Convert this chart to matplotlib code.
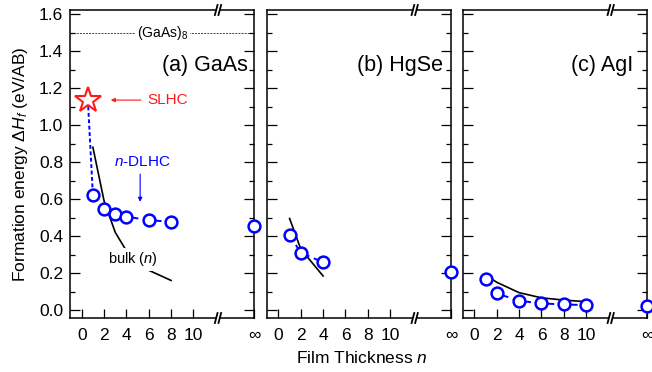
import numpy as np
import matplotlib
matplotlib.use('Agg')
import matplotlib.pyplot as plt
from matplotlib.ticker import MultipleLocator

plt.rcParams['font.family'] = ['Liberation Sans', 'DejaVu Sans']
plt.rcParams['mathtext.fontset'] = 'custom'
plt.rcParams['mathtext.rm'] = 'Liberation Sans'
plt.rcParams['mathtext.it'] = 'Liberation Sans:italic'

# data
xinf = 15.45   # position used for n = infinity (right spine)

gaas_n = [1, 2, 3, 4, 6, 8]
gaas_dlhc = [0.62, 0.545, 0.52, 0.505, 0.486, 0.477]
gaas_inf = 0.456
gaas_bulk_n = [1, 2, 3, 4, 6, 8]
gaas_bulk = [0.88, 0.59, 0.42, 0.32, 0.215, 0.16]
slhc_n = 0.55
slhc_val = 1.135
gaas8_val = 1.5

hgse_n = [1, 2, 4]
hgse_dlhc = [0.405, 0.31, 0.258]
hgse_inf = 0.207
hgse_bulk_n = [1, 2, 4]
hgse_bulk = [0.495, 0.33, 0.184]

agi_n = [1, 2, 4, 6, 8, 10]
agi_dlhc = [0.166, 0.09, 0.05, 0.036, 0.03, 0.027]
agi_inf = 0.022
agi_bulk_n = [1, 2, 4, 6, 8, 10]
agi_bulk = [0.19, 0.15, 0.094, 0.066, 0.054, 0.045]

xticks = [0, 2, 4, 6, 8, 10]
xticklabels = ['0', '2', '4', '6', '8', '10']
titles = ['(a) GaAs', '(b) HgSe', '(c) AgI']

blue = '#0000ff'
red = '#ff1a1a'

fig = plt.figure(figsize=(6.52, 3.72), dpi=100)
W, H = 652.0, 372.0
lefts = [70, 266.7, 462.7]
axes = []
for l in lefts:
    ax = fig.add_axes([l / W, (H - 318) / H, 184.3 / W, 308 / H])
    axes.append(ax)

def style(ax, first):
    ax.set_xlim(-1.05, xinf)
    ax.set_ylim(-0.043, 1.622)
    ax.set_xticks(xticks + [xinf])
    ax.set_xticklabels(xticklabels + ['\u221e'])
    ax.yaxis.set_major_locator(MultipleLocator(0.2))
    ax.yaxis.set_minor_locator(MultipleLocator(0.1))
    ax.tick_params(axis='both', which='both', direction='in', top=False, right=True,
                   labelsize=12.5, width=0.9)
    ax.tick_params(axis='y', which='major', length=7.5, pad=5)
    ax.tick_params(axis='y', which='minor', length=3.8)
    ax.tick_params(axis='x', which='major', length=6.5, pad=7)
    if not first:
        ax.tick_params(axis='y', labelleft=False)
    for s in ax.spines.values():
        s.set_linewidth(1.1)
    # axis break marks "//"
    tr = ax.get_xaxis_transform()
    x0 = 12.2
    for yc in (0.0, 1.0):
        dx, dy, g = 0.14, 0.019, 0.16
        ax.fill([x0 - g - dx, x0 + g - dx, x0 + g + dx, x0 - g + dx],
                [yc - dy, yc - dy, yc + dy, yc + dy], color='white',
                transform=tr, clip_on=False, zorder=5, lw=0)
        for xo in (x0 - g, x0 + g):
            ax.plot([xo - dx, xo + dx], [yc - dy, yc + dy], color='black', lw=1.3,
                    transform=tr, clip_on=False, zorder=6, solid_capstyle='butt')

mk = dict(marker='o', ms=8.5, mfc='white', mec=blue, mew=1.8, color=blue)

def draw(ax, n, dlhc, inf, bn, bulk):
    ax.plot(bn, bulk, color='black', lw=1.2, zorder=2)
    ax.plot(n, dlhc, ls=(0, (3.5, 2.5)), lw=1.4, zorder=3, **mk)
    ax.plot([xinf], [inf], clip_on=False, zorder=7, **mk)

ax = axes[0]
style(ax, True)
ax.plot([slhc_n, gaas_n[0]], [slhc_val, gaas_dlhc[0]], color=blue, lw=1.4,
        ls=(0, (2, 1.3)), zorder=3)
draw(ax, gaas_n, gaas_dlhc, gaas_inf, gaas_bulk_n, gaas_bulk)
ax.plot([slhc_n], [slhc_val], marker='*', ms=19, mfc='white', mec=red, mew=1.5,
        ls='none', zorder=4)
ax.axhline(gaas8_val, color='#444444', lw=0.7, ls=(0, (2, 1.2)), zorder=1)
ax.text(7.2, gaas8_val, '(GaAs)$_8$', fontsize=10, ha='center', va='center',
        bbox=dict(facecolor='white', edgecolor='none', pad=1.5), zorder=2)
ax.annotate('', xy=(2.6, slhc_val), xytext=(5.3, slhc_val),
            arrowprops=dict(arrowstyle='-|>', color=red, lw=0.8,
                            mutation_scale=6, shrinkA=0, shrinkB=0))
ax.text(7.7, slhc_val, 'SLHC', color=red, fontsize=11, ha='center', va='center')
ax.text(5.45, 0.80, '$n$-DLHC', color=blue, fontsize=11, ha='center', va='center')
ax.annotate('', xy=(5.23, 0.585), xytext=(5.23, 0.735),
            arrowprops=dict(arrowstyle='-|>', color=blue, lw=0.8,
                            mutation_scale=6, shrinkA=0, shrinkB=0))
ax.text(4.6, 0.274, 'bulk ($n$)', fontsize=10.5, ha='center', va='center',
        bbox=dict(facecolor='white', edgecolor='none', pad=2), zorder=3)
ax.set_ylabel(r'Formation energy $\Delta H_f$ (eV/AB)', fontsize=12.5, labelpad=6)

ax = axes[1]
style(ax, False)
draw(ax, hgse_n, hgse_dlhc, hgse_inf, hgse_bulk_n, hgse_bulk)

ax = axes[2]
style(ax, False)
draw(ax, agi_n, agi_dlhc, agi_inf, agi_bulk_n, agi_bulk)

for ax, t, xp in zip(axes, titles, [0.967, 0.958, 0.924]):
    ax.text(xp, 0.821, t, transform=ax.transAxes, fontsize=15.5, ha='right', va='center')

fig.text(362 / W, 1 - 358 / H, 'Film Thickness $n$', fontsize=12.5, ha='center', va='center')

fig.savefig('out.png', dpi=100)
